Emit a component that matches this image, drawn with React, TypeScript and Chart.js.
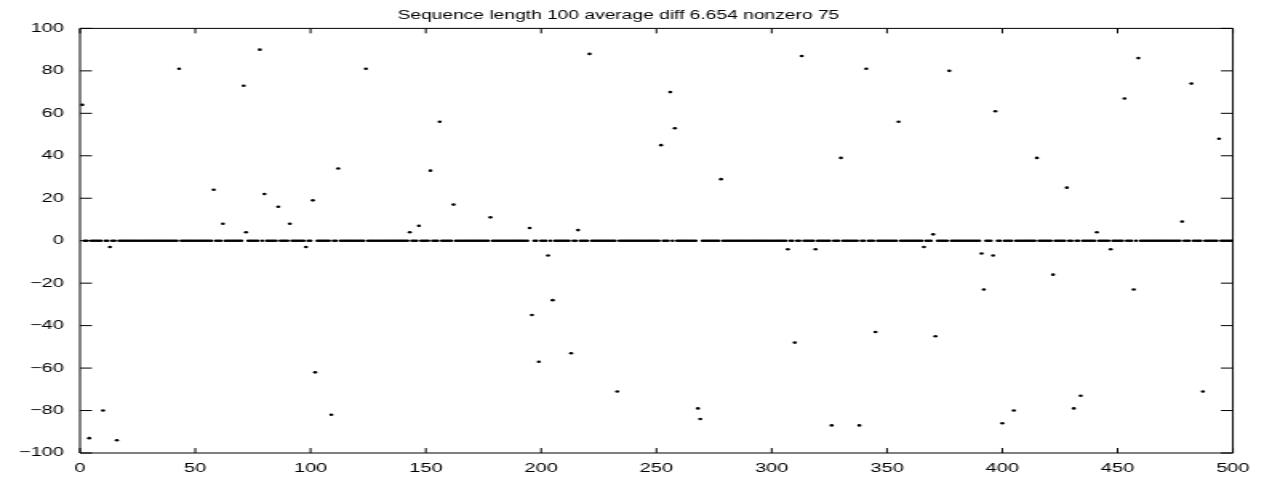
import React, { useEffect, useRef } from "react";
import { Chart, registerables } from "chart.js";

Chart.register(...registerables);

const titleText = "Sequence length 100 average diff 6.654 nonzero 75";
const sequenceLength = 500;
const nonzeroIndex = [
  1, 4, 10, 13, 16, 43, 58, 62, 71, 72, 78, 80, 86, 91, 98, 101, 102, 109, 112, 124,
  143, 147, 152, 156, 162, 178, 195, 196, 199, 203, 205, 213, 216, 221, 233, 252, 256, 258, 268, 269,
  278, 307, 310, 313, 319, 326, 330, 338, 341, 345, 355, 366, 370, 371, 377, 391, 392, 396, 397, 400,
  405, 415, 422, 428, 431, 434, 441, 447, 453, 457, 459, 478, 482, 487, 494,
];
const nonzeroValue = [
  64, -93, -80, -3, -94, 81, 24, 8, 73, 4, 90, 22, 16, 8, -3, 19, -62, -82, 34, 81,
  4, 7, 33, 56, 17, 11, 6, -35, -57, -7, -28, -53, 5, 88, -71, 45, 70, 53, -79, -84,
  29, -4, -48, 87, -4, -87, 39, -87, 81, -43, 56, -3, 3, -45, 80, -6, -23, -7, 61, -86,
  -80, 39, -16, 25, -79, -73, 4, -4, 67, -23, 86, 9, 74, -71, 48,
];
const xTickMin = 0;
const xTickMax = 500;
const xTickStep = 50;
const yTickMin = -100;
const yTickMax = 100;
const yTickStep = 20;

const STRETCH = 1.6;
const CANVAS_W = 789;
const CANVAS_H = 480;

const axesPlugin = {
  id: "matlabAxes",
  afterDatasetsDraw(chart: any) {
    const { ctx, chartArea: a, scales } = chart;
    const x = scales.x;
    const y = scales.y;
    ctx.save();
    ctx.strokeStyle = "#000";
    ctx.lineWidth = 1;
    ctx.beginPath();
    ctx.rect(a.left, a.top, a.right - a.left, a.bottom - a.top);
    for (const t of x.ticks) {
      const px = x.getPixelForValue(t.value);
      ctx.moveTo(px, a.bottom);
      ctx.lineTo(px, a.bottom - 5);
      ctx.moveTo(px, a.top);
      ctx.lineTo(px, a.top + 5);
    }
    for (const t of y.ticks) {
      const py = y.getPixelForValue(t.value);
      ctx.moveTo(a.left, py);
      ctx.lineTo(a.left + 7.5, py);
      ctx.moveTo(a.right, py);
      ctx.lineTo(a.right - 7.5, py);
    }
    ctx.stroke();
    ctx.restore();
  },
};

export default function App() {
  const ref = useRef<HTMLCanvasElement | null>(null);

  useEffect(() => {
    if (!ref.current) return;
    const valueAt = new Map<number, number>();
    nonzeroIndex.forEach((ix, k) => valueAt.set(ix, nonzeroValue[k]));
    const points: { x: number; y: number }[] = [];
    for (let i = 1; i <= sequenceLength; i++) {
      points.push({ x: i, y: valueAt.has(i) ? (valueAt.get(i) as number) : 0 });
    }
    const font = { family: "'Liberation Sans', Arial, Helvetica, sans-serif", size: 12.5 };
    const minus = (v: number) => (v < 0 ? "\u2212" + Math.abs(v) : String(v));

    const chart = new Chart(ref.current, {
      type: "scatter",
      data: {
        datasets: [
          {
            data: points,
            showLine: false,
            pointRadius: 1.3,
            pointHoverRadius: 1.3,
            pointBorderWidth: 0,
            backgroundColor: "#000",
            borderColor: "#000",
          },
        ],
      },
      plugins: [axesPlugin],
      options: {
        animation: false,
        responsive: false,
        devicePixelRatio: 1,
        events: [],
        layout: { padding: { left: 0, right: 16, top: 0, bottom: 0 } },
        plugins: {
          legend: { display: false },
          tooltip: { enabled: false },
          title: {
            display: true,
            text: titleText,
            color: "#000",
            font: { ...font, size: 12, weight: "normal" },
            padding: { top: 8, bottom: 6 },
          },
        },
        scales: {
          x: {
            type: "linear",
            min: xTickMin,
            max: xTickMax,
            grid: { display: false, drawTicks: false },
            border: { display: false },
            ticks: {
              stepSize: xTickStep,
              autoSkip: false,
              maxRotation: 0,
              color: "#000",
              font,
              padding: 8,
              callback: (v: any) => minus(Number(v)),
            },
            afterFit: (s: any) => {
              s.height = 27;
            },
          },
          y: {
            type: "linear",
            min: yTickMin,
            max: yTickMax,
            grid: { display: false, drawTicks: false },
            border: { display: false },
            ticks: {
              stepSize: yTickStep,
              autoSkip: false,
              color: "#000",
              font,
              padding: 10,
              callback: (v: any) => minus(Number(v)),
            },
            afterFit: (s: any) => {
              s.width = 50;
            },
          },
        },
      },
    });
    return () => chart.destroy();
  }, []);

  return (
    <div
      style={{
        position: "absolute",
        left: 0,
        top: 0,
        width: 1262,
        height: 480,
        overflow: "hidden",
        background: "#fff",
      }}
    >
      <canvas
        ref={ref}
        width={CANVAS_W}
        height={CANVAS_H}
        style={{
          display: "block",
          transform: `scaleX(${STRETCH})`,
          transformOrigin: "0 0",
        }}
      />
    </div>
  );
}
